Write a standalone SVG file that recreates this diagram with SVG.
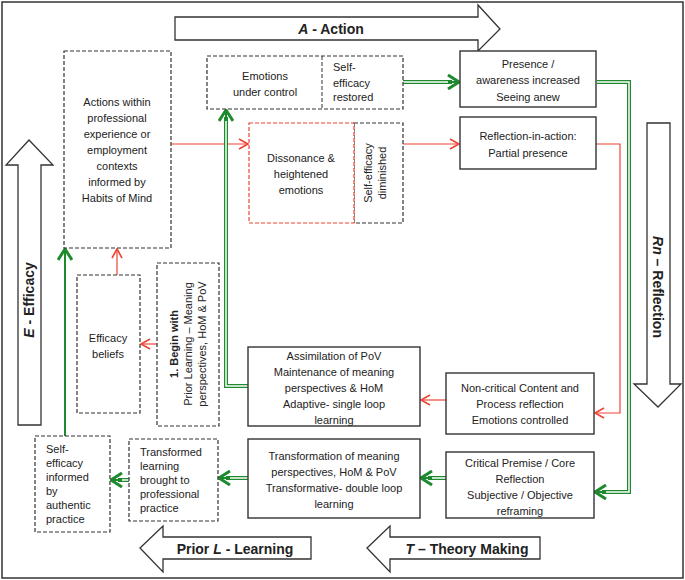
<svg xmlns="http://www.w3.org/2000/svg" width="685" height="580" viewBox="0 0 685 580">
<style>
text{font-family:"Liberation Sans",Arial,sans-serif;font-size:11px;fill:#222;text-anchor:middle}
.h{font-size:14px;font-weight:bold}
.l{text-anchor:start}
.dash{fill:#fff;stroke:#333;stroke-width:1.2;stroke-dasharray:4,2}
.rdash{fill:#fff;stroke:#ee4433;stroke-width:1.2;stroke-dasharray:4,2}
.solid{fill:#fff;stroke:#333;stroke-width:1.4}
.big{fill:#fff;stroke:#333;stroke-width:1.3}
.red{fill:none;stroke:#ee4433;stroke-width:1.2}
.g1{fill:none;stroke:#1e8a2e;stroke-width:4}
.g2{fill:none;stroke:#fff;stroke-width:1.5}
.gs{fill:none;stroke:#1e8a2e;stroke-width:2}
</style>
<defs>
<marker id="ra" markerWidth="12" markerHeight="12" refX="10" refY="6" orient="auto" markerUnits="userSpaceOnUse"><path d="M1,1 L10,6 L1,11" fill="none" stroke="#ee4433" stroke-width="1.6"/></marker>
<marker id="ga" markerWidth="16" markerHeight="16" refX="13" refY="8" orient="auto" markerUnits="userSpaceOnUse"><path d="M2,1 L13,8 L2,15" fill="none" stroke="#1e8a2e" stroke-width="3"/></marker>
</defs>
<rect x="2" y="2" width="681" height="576" fill="#fff" stroke="#333" stroke-width="1.5"/>
<g id="arrow-action"><path class="big" d="M175,17 H478 V5 L500,29 L478,51 V40 H175 Z"/><text class="h" x="331" y="34"><tspan font-style="italic">A</tspan> - Action</text></g>
<g id="arrow-reflection"><path class="big" d="M647,123 H670 V384 H681 L658,407 L634,384 H647 Z"/><text class="h" transform="translate(653,287) rotate(90)"><tspan font-style="italic">Rn</tspan> – Reflection</text></g>
<g id="arrow-efficacy"><path class="big" d="M18,425 V165 H6 L29,140 L53,165 H41 V425 Z"/><text class="h" transform="translate(34,300) rotate(-90)"><tspan font-style="italic">E</tspan> - Efficacy</text></g>
<g id="arrow-learning"><path class="big" d="M311,537 V559 H163 V572 L140,548 L163,526 V537 Z"/><text class="h" x="235" y="554">Prior <tspan font-style="italic">L</tspan> - Learning</text></g>
<g id="arrow-theory"><path class="big" d="M540,537 V559 H390 V572 L367,548 L390,526 V537 Z"/><text class="h" x="467" y="554"><tspan font-style="italic">T</tspan> – Theory Making</text></g>
<g id="connectors">
<path class="red" d="M171,144 H248" marker-end="url(#ra)"/>
<path class="red" d="M403,144 H459" marker-end="url(#ra)"/>
<path class="red" d="M596,144 H620 V413 H595" marker-end="url(#ra)"/>
<path class="red" d="M446,400 H421" marker-end="url(#ra)"/>
<path class="red" d="M157,344 H141" marker-end="url(#ra)"/>
<path class="red" d="M117,275 V249" marker-end="url(#ra)"/>
<path class="g1" d="M403,82 H452"/><path class="g2" d="M403,82 H452"/><path class="gs" d="M448,82 H459" marker-end="url(#ga)"/>
<path class="g1" d="M597,82 H629 V492 H602"/><path class="g2" d="M597,82 H629 V492 H602"/><path class="gs" d="M606,492 H595" marker-end="url(#ga)"/>
<path class="g1" d="M248,386 H226 V117"/><path class="g2" d="M248,386 H226 V117"/><path class="gs" d="M226,121 V110" marker-end="url(#ga)"/>
<path class="g1" d="M446,478 H428"/><path class="g2" d="M446,478 H428"/><path class="gs" d="M432,478 H421" marker-end="url(#ga)"/>
<path class="g1" d="M248,478 H226"/><path class="g2" d="M248,478 H226"/><path class="gs" d="M230,478 H219" marker-end="url(#ga)"/>
<path class="g1" d="M129,480 H118"/><path class="g2" d="M129,480 H118"/><path class="gs" d="M122,480 H111" marker-end="url(#ga)"/>
<path class="gs" d="M65,436 V249" marker-end="url(#ga)"/>
</g>
<g id="actions"><rect class="dash" x="64" y="51" width="107" height="197"/>
<text x="117" y="106">Actions within</text><text x="117" y="122">professional</text><text x="117" y="138">experience or</text><text x="117" y="154">employment</text><text x="117" y="170">contexts</text><text x="117" y="186">informed by</text><text x="117" y="202">Habits of Mind</text></g>
<g id="emotions"><rect class="dash" x="207" y="56" width="196" height="53"/><line x1="322" y1="56" x2="322" y2="109" stroke="#333" stroke-dasharray="4,2"/>
<text x="265" y="80">Emotions</text><text x="265" y="96">under control</text>
<text class="l" x="333" y="71">Self-</text><text class="l" x="333" y="87">efficacy</text><text class="l" x="333" y="101">restored</text></g>
<g id="dissonance"><rect class="dash" x="354" y="123" width="49" height="100"/><rect class="rdash" x="249" y="123" width="105" height="100"/>
<text x="301" y="162">Dissonance &amp;</text><text x="301" y="178">heightened</text><text x="301" y="194">emotions</text>
<text transform="translate(372,173) rotate(-90)">Self-efficacy</text><text transform="translate(386,173) rotate(-90)">diminished</text></g>
<g id="presence"><rect class="solid" x="460" y="51" width="136" height="56"/>
<text x="528" y="68">Presence /</text><text x="528" y="84">awareness increased</text><text x="528" y="101">Seeing anew</text></g>
<g id="reflection-in-action"><rect class="solid" x="460" y="117" width="136" height="52"/>
<text x="528" y="140">Reflection-in-action:</text><text x="528" y="157">Partial presence</text></g>
<g id="efficacy-beliefs"><rect class="dash" x="77" y="275" width="63" height="138"/>
<text x="108" y="342">Efficacy</text><text x="108" y="358">beliefs</text></g>
<g id="begin-with"><rect class="dash" x="157" y="263" width="62" height="163"/>
<text transform="translate(178,344) rotate(-90)" font-weight="bold">1.     Begin with</text>
<text transform="translate(192,344) rotate(-90)">Prior Learning – Meaning</text>
<text transform="translate(206,344) rotate(-90)">perspectives, HoM &amp; PoV</text></g>
<g id="assimilation"><rect class="solid" x="248" y="347" width="172" height="79"/>
<text x="334" y="360">Assimilation of PoV</text><text x="334" y="376">Maintenance of meaning</text><text x="334" y="392">perspectives &amp; HoM</text><text x="334" y="408">Adaptive- single loop</text><text x="334" y="424">learning</text></g>
<g id="non-critical"><rect class="solid" x="446" y="373" width="148" height="61"/>
<text x="520" y="392">Non-critical Content and</text><text x="520" y="408">Process reflection</text><text x="520" y="424">Emotions controlled</text></g>
<g id="critical"><rect class="solid" x="446" y="452" width="148" height="66"/>
<text x="520" y="467">Critical Premise / Core</text><text x="520" y="483">Reflection</text><text x="520" y="499">Subjective /  Objective</text><text x="520" y="515">reframing</text></g>
<g id="transformation"><rect class="solid" x="248" y="439" width="172" height="79"/>
<text x="334" y="460">Transformation of meaning</text><text x="334" y="476">perspectives, HoM &amp; PoV</text><text x="334" y="492">Transformative- double loop</text><text x="334" y="508">learning</text></g>
<g id="transformed-learning"><rect class="dash" x="129" y="439" width="89" height="82"/>
<text class="l" x="140" y="456">Transformed</text><text class="l" x="140" y="470">learning</text><text class="l" x="140" y="484">brought to</text><text class="l" x="140" y="498">professional</text><text class="l" x="140" y="512">practice</text></g>
<g id="self-efficacy-informed"><rect class="dash" x="35" y="436" width="75" height="96"/>
<text class="l" x="46" y="453">Self-</text><text class="l" x="46" y="467">efficacy</text><text class="l" x="46" y="481">informed</text><text class="l" x="46" y="495">by</text><text class="l" x="46" y="509">authentic</text><text class="l" x="46" y="523">practice</text></g>
</svg>
